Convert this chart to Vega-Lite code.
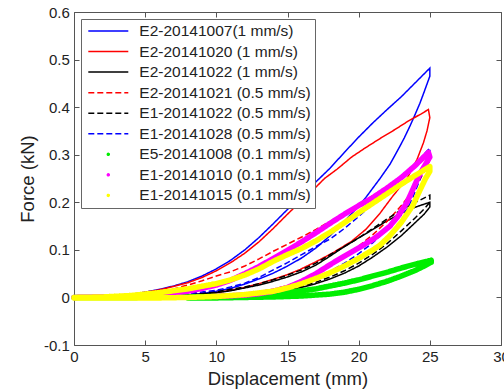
{
"$schema": "https://vega.github.io/schema/vega-lite/v6.json",
"width": 427,
"height": 333,
"autosize": {"type": "none"},
"padding": {"left": 74, "top": 12, "right": 3, "bottom": 44},
"background": "white",
"config": {
  "view": {"stroke": "#555", "strokeWidth": 1},
  "font": "Liberation Sans",
  "axis": {"grid": false, "domain": false, "tickSize": -5, "tickColor": "#555", "tickWidth": 1, "labelFont": "Liberation Sans", "labelFontSize": 15, "labelColor": "#222", "labelPadding": 9.7, "labelFlush": false, "titleFont": "Liberation Sans", "titleFontSize": 18.5, "titleFontWeight": "normal", "titleColor": "#222"},
  "legend": {"orient": "top-left", "offset": 7, "padding": 4, "symbolType": "stroke", "symbolSize": 1600, "symbolStrokeWidth": 1.5, "symbolOffset": 2.3, "labelOffset": 10, "labelFont": "Liberation Sans", "labelFontSize": 15.5, "labelColor": "#222", "labelLimit": 300, "clipHeight": 16, "rowPadding": 3.55, "fillColor": "white", "strokeColor": "#666", "cornerRadius": 0}
},
"datasets": {
"lines": [
{"s":"E2-20141007(1 mm/s)","x":0,"y":0},{"s":"E2-20141007(1 mm/s)","x":2,"y":0.001},{"s":"E2-20141007(1 mm/s)","x":4,"y":0.006},{"s":"E2-20141007(1 mm/s)","x":5,"y":0.011},{"s":"E2-20141007(1 mm/s)","x":6,"y":0.017},{"s":"E2-20141007(1 mm/s)","x":7,"y":0.024},{"s":"E2-20141007(1 mm/s)","x":8,"y":0.033},{"s":"E2-20141007(1 mm/s)","x":9,"y":0.045},{"s":"E2-20141007(1 mm/s)","x":10,"y":0.06},{"s":"E2-20141007(1 mm/s)","x":11,"y":0.078},{"s":"E2-20141007(1 mm/s)","x":12,"y":0.1},{"s":"E2-20141007(1 mm/s)","x":13,"y":0.126},{"s":"E2-20141007(1 mm/s)","x":14,"y":0.155},{"s":"E2-20141007(1 mm/s)","x":15,"y":0.185},{"s":"E2-20141007(1 mm/s)","x":16,"y":0.214},{"s":"E2-20141007(1 mm/s)","x":17,"y":0.243},{"s":"E2-20141007(1 mm/s)","x":18,"y":0.272},{"s":"E2-20141007(1 mm/s)","x":19,"y":0.305},{"s":"E2-20141007(1 mm/s)","x":20,"y":0.337},{"s":"E2-20141007(1 mm/s)","x":21,"y":0.367},{"s":"E2-20141007(1 mm/s)","x":22,"y":0.395},{"s":"E2-20141007(1 mm/s)","x":23,"y":0.422},{"s":"E2-20141007(1 mm/s)","x":24,"y":0.452},{"s":"E2-20141007(1 mm/s)","x":25,"y":0.482},
{"s":"E2-20141007(1 mm/s)","x":25,"y":0.465},{"s":"E2-20141007(1 mm/s)","x":24.6,"y":0.432},{"s":"E2-20141007(1 mm/s)","x":24.3,"y":0.408},{"s":"E2-20141007(1 mm/s)","x":23.9,"y":0.38},{"s":"E2-20141007(1 mm/s)","x":23.6,"y":0.36},{"s":"E2-20141007(1 mm/s)","x":23.2,"y":0.335},{"s":"E2-20141007(1 mm/s)","x":22.9,"y":0.318},{"s":"E2-20141007(1 mm/s)","x":22.5,"y":0.296},{"s":"E2-20141007(1 mm/s)","x":22.2,"y":0.28},{"s":"E2-20141007(1 mm/s)","x":21.5,"y":0.25},{"s":"E2-20141007(1 mm/s)","x":21,"y":0.23},{"s":"E2-20141007(1 mm/s)","x":20.5,"y":0.21},{"s":"E2-20141007(1 mm/s)","x":20,"y":0.192},{"s":"E2-20141007(1 mm/s)","x":19,"y":0.16},{"s":"E2-20141007(1 mm/s)","x":18,"y":0.13},{"s":"E2-20141007(1 mm/s)","x":17,"y":0.104},{"s":"E2-20141007(1 mm/s)","x":16,"y":0.083},{"s":"E2-20141007(1 mm/s)","x":15,"y":0.066},{"s":"E2-20141007(1 mm/s)","x":14,"y":0.051},{"s":"E2-20141007(1 mm/s)","x":13,"y":0.039},{"s":"E2-20141007(1 mm/s)","x":12,"y":0.028},{"s":"E2-20141007(1 mm/s)","x":11,"y":0.019},{"s":"E2-20141007(1 mm/s)","x":10,"y":0.013},{"s":"E2-20141007(1 mm/s)","x":9,"y":0.008},{"s":"E2-20141007(1 mm/s)","x":8,"y":0.005},{"s":"E2-20141007(1 mm/s)","x":7,"y":0.003},{"s":"E2-20141007(1 mm/s)","x":6,"y":0.002},
{"s":"E2-20141020 (1 mm/s)","x":0,"y":0},{"s":"E2-20141020 (1 mm/s)","x":2,"y":0.001},{"s":"E2-20141020 (1 mm/s)","x":4,"y":0.006},{"s":"E2-20141020 (1 mm/s)","x":5,"y":0.011},{"s":"E2-20141020 (1 mm/s)","x":6,"y":0.016},{"s":"E2-20141020 (1 mm/s)","x":7,"y":0.023},{"s":"E2-20141020 (1 mm/s)","x":8,"y":0.031},{"s":"E2-20141020 (1 mm/s)","x":9,"y":0.042},{"s":"E2-20141020 (1 mm/s)","x":10,"y":0.056},{"s":"E2-20141020 (1 mm/s)","x":11,"y":0.073},{"s":"E2-20141020 (1 mm/s)","x":12,"y":0.093},{"s":"E2-20141020 (1 mm/s)","x":13,"y":0.117},{"s":"E2-20141020 (1 mm/s)","x":14,"y":0.145},{"s":"E2-20141020 (1 mm/s)","x":15,"y":0.175},{"s":"E2-20141020 (1 mm/s)","x":16,"y":0.204},{"s":"E2-20141020 (1 mm/s)","x":17,"y":0.232},{"s":"E2-20141020 (1 mm/s)","x":17.6,"y":0.25},{"s":"E2-20141020 (1 mm/s)","x":18.5,"y":0.27},{"s":"E2-20141020 (1 mm/s)","x":19.5,"y":0.295},{"s":"E2-20141020 (1 mm/s)","x":20.5,"y":0.315},{"s":"E2-20141020 (1 mm/s)","x":21.5,"y":0.334},{"s":"E2-20141020 (1 mm/s)","x":22.5,"y":0.352},{"s":"E2-20141020 (1 mm/s)","x":23.5,"y":0.371},{"s":"E2-20141020 (1 mm/s)","x":24.4,"y":0.386},{"s":"E2-20141020 (1 mm/s)","x":24.9,"y":0.395},
{"s":"E2-20141020 (1 mm/s)","x":25,"y":0.378},{"s":"E2-20141020 (1 mm/s)","x":24.8,"y":0.35},{"s":"E2-20141020 (1 mm/s)","x":24.55,"y":0.325},{"s":"E2-20141020 (1 mm/s)","x":24.1,"y":0.29},{"s":"E2-20141020 (1 mm/s)","x":23.4,"y":0.25},{"s":"E2-20141020 (1 mm/s)","x":22.4,"y":0.213},{"s":"E2-20141020 (1 mm/s)","x":21.5,"y":0.177},{"s":"E2-20141020 (1 mm/s)","x":20.5,"y":0.143},{"s":"E2-20141020 (1 mm/s)","x":19.5,"y":0.118},{"s":"E2-20141020 (1 mm/s)","x":18.2,"y":0.094},{"s":"E2-20141020 (1 mm/s)","x":17,"y":0.075},{"s":"E2-20141020 (1 mm/s)","x":15.9,"y":0.059},{"s":"E2-20141020 (1 mm/s)","x":15,"y":0.048},{"s":"E2-20141020 (1 mm/s)","x":14,"y":0.038},{"s":"E2-20141020 (1 mm/s)","x":13,"y":0.029},{"s":"E2-20141020 (1 mm/s)","x":12,"y":0.021},{"s":"E2-20141020 (1 mm/s)","x":11,"y":0.015},{"s":"E2-20141020 (1 mm/s)","x":10,"y":0.01},{"s":"E2-20141020 (1 mm/s)","x":9,"y":0.006},{"s":"E2-20141020 (1 mm/s)","x":8,"y":0.004},{"s":"E2-20141020 (1 mm/s)","x":7,"y":0.002},
{"s":"E2-20141022 (1 mm/s)","x":0,"y":0},{"s":"E2-20141022 (1 mm/s)","x":4,"y":0.001},{"s":"E2-20141022 (1 mm/s)","x":6,"y":0.002},{"s":"E2-20141022 (1 mm/s)","x":8,"y":0.005},{"s":"E2-20141022 (1 mm/s)","x":10,"y":0.01},{"s":"E2-20141022 (1 mm/s)","x":11,"y":0.014},{"s":"E2-20141022 (1 mm/s)","x":12,"y":0.02},{"s":"E2-20141022 (1 mm/s)","x":13,"y":0.026},{"s":"E2-20141022 (1 mm/s)","x":14,"y":0.034},{"s":"E2-20141022 (1 mm/s)","x":15,"y":0.043},{"s":"E2-20141022 (1 mm/s)","x":16,"y":0.054},{"s":"E2-20141022 (1 mm/s)","x":17,"y":0.068},{"s":"E2-20141022 (1 mm/s)","x":18,"y":0.087},{"s":"E2-20141022 (1 mm/s)","x":19,"y":0.107},{"s":"E2-20141022 (1 mm/s)","x":20,"y":0.125},{"s":"E2-20141022 (1 mm/s)","x":21,"y":0.143},{"s":"E2-20141022 (1 mm/s)","x":22,"y":0.161},{"s":"E2-20141022 (1 mm/s)","x":23,"y":0.177},{"s":"E2-20141022 (1 mm/s)","x":24,"y":0.19},{"s":"E2-20141022 (1 mm/s)","x":25,"y":0.2},
{"s":"E2-20141022 (1 mm/s)","x":25,"y":0.19},{"s":"E2-20141022 (1 mm/s)","x":24.6,"y":0.175},{"s":"E2-20141022 (1 mm/s)","x":24,"y":0.158},{"s":"E2-20141022 (1 mm/s)","x":23,"y":0.13},{"s":"E2-20141022 (1 mm/s)","x":22,"y":0.106},{"s":"E2-20141022 (1 mm/s)","x":21,"y":0.085},{"s":"E2-20141022 (1 mm/s)","x":20,"y":0.066},{"s":"E2-20141022 (1 mm/s)","x":19,"y":0.051},{"s":"E2-20141022 (1 mm/s)","x":18,"y":0.039},{"s":"E2-20141022 (1 mm/s)","x":17,"y":0.029},{"s":"E2-20141022 (1 mm/s)","x":16,"y":0.021},{"s":"E2-20141022 (1 mm/s)","x":15,"y":0.015},{"s":"E2-20141022 (1 mm/s)","x":14,"y":0.01},{"s":"E2-20141022 (1 mm/s)","x":13,"y":0.007},{"s":"E2-20141022 (1 mm/s)","x":12,"y":0.005},{"s":"E2-20141022 (1 mm/s)","x":10,"y":0.002},{"s":"E2-20141022 (1 mm/s)","x":8,"y":0.001},
{"s":"E2-20141021 (0.5 mm/s)","x":0,"y":0},{"s":"E2-20141021 (0.5 mm/s)","x":3,"y":0.003},{"s":"E2-20141021 (0.5 mm/s)","x":5,"y":0.008},{"s":"E2-20141021 (0.5 mm/s)","x":6,"y":0.012},{"s":"E2-20141021 (0.5 mm/s)","x":7,"y":0.018},{"s":"E2-20141021 (0.5 mm/s)","x":8,"y":0.026},{"s":"E2-20141021 (0.5 mm/s)","x":9,"y":0.035},{"s":"E2-20141021 (0.5 mm/s)","x":10,"y":0.045},{"s":"E2-20141021 (0.5 mm/s)","x":11,"y":0.054},{"s":"E2-20141021 (0.5 mm/s)","x":12,"y":0.066},{"s":"E2-20141021 (0.5 mm/s)","x":13,"y":0.081},{"s":"E2-20141021 (0.5 mm/s)","x":14,"y":0.097},{"s":"E2-20141021 (0.5 mm/s)","x":15,"y":0.112},{"s":"E2-20141021 (0.5 mm/s)","x":16,"y":0.127},{"s":"E2-20141021 (0.5 mm/s)","x":17,"y":0.143},{"s":"E2-20141021 (0.5 mm/s)","x":18,"y":0.16},{"s":"E2-20141021 (0.5 mm/s)","x":19,"y":0.178},{"s":"E2-20141021 (0.5 mm/s)","x":20,"y":0.196},{"s":"E2-20141021 (0.5 mm/s)","x":21,"y":0.214},{"s":"E2-20141021 (0.5 mm/s)","x":22,"y":0.233},{"s":"E2-20141021 (0.5 mm/s)","x":23,"y":0.253},{"s":"E2-20141021 (0.5 mm/s)","x":24,"y":0.275},{"s":"E2-20141021 (0.5 mm/s)","x":25,"y":0.3},
{"s":"E2-20141021 (0.5 mm/s)","x":25,"y":0.288},{"s":"E2-20141021 (0.5 mm/s)","x":24.5,"y":0.258},{"s":"E2-20141021 (0.5 mm/s)","x":24,"y":0.232},{"s":"E2-20141021 (0.5 mm/s)","x":23,"y":0.193},{"s":"E2-20141021 (0.5 mm/s)","x":22,"y":0.16},{"s":"E2-20141021 (0.5 mm/s)","x":21,"y":0.132},{"s":"E2-20141021 (0.5 mm/s)","x":20,"y":0.108},{"s":"E2-20141021 (0.5 mm/s)","x":19,"y":0.088},{"s":"E2-20141021 (0.5 mm/s)","x":18,"y":0.07},{"s":"E2-20141021 (0.5 mm/s)","x":17,"y":0.052},{"s":"E2-20141021 (0.5 mm/s)","x":16,"y":0.036},{"s":"E2-20141021 (0.5 mm/s)","x":15,"y":0.025},{"s":"E2-20141021 (0.5 mm/s)","x":14,"y":0.017},{"s":"E2-20141021 (0.5 mm/s)","x":13,"y":0.012},{"s":"E2-20141021 (0.5 mm/s)","x":12,"y":0.008},{"s":"E2-20141021 (0.5 mm/s)","x":10,"y":0.004},{"s":"E2-20141021 (0.5 mm/s)","x":8,"y":0.002},
{"s":"E1-20141022 (0.5 mm/s)","x":0,"y":0},{"s":"E1-20141022 (0.5 mm/s)","x":4,"y":0.001},{"s":"E1-20141022 (0.5 mm/s)","x":6,"y":0.003},{"s":"E1-20141022 (0.5 mm/s)","x":8,"y":0.006},{"s":"E1-20141022 (0.5 mm/s)","x":10,"y":0.012},{"s":"E1-20141022 (0.5 mm/s)","x":12,"y":0.022},{"s":"E1-20141022 (0.5 mm/s)","x":13,"y":0.029},{"s":"E1-20141022 (0.5 mm/s)","x":14,"y":0.037},{"s":"E1-20141022 (0.5 mm/s)","x":15,"y":0.047},{"s":"E1-20141022 (0.5 mm/s)","x":16,"y":0.058},{"s":"E1-20141022 (0.5 mm/s)","x":17,"y":0.072},{"s":"E1-20141022 (0.5 mm/s)","x":18,"y":0.09},{"s":"E1-20141022 (0.5 mm/s)","x":19,"y":0.107},{"s":"E1-20141022 (0.5 mm/s)","x":20,"y":0.125},{"s":"E1-20141022 (0.5 mm/s)","x":21,"y":0.145},{"s":"E1-20141022 (0.5 mm/s)","x":22,"y":0.165},{"s":"E1-20141022 (0.5 mm/s)","x":23,"y":0.184},{"s":"E1-20141022 (0.5 mm/s)","x":24,"y":0.2},{"s":"E1-20141022 (0.5 mm/s)","x":25,"y":0.215},
{"s":"E1-20141022 (0.5 mm/s)","x":25,"y":0.2},{"s":"E1-20141022 (0.5 mm/s)","x":24.6,"y":0.186},{"s":"E1-20141022 (0.5 mm/s)","x":24,"y":0.168},{"s":"E1-20141022 (0.5 mm/s)","x":23,"y":0.14},{"s":"E1-20141022 (0.5 mm/s)","x":22,"y":0.113},{"s":"E1-20141022 (0.5 mm/s)","x":21,"y":0.091},{"s":"E1-20141022 (0.5 mm/s)","x":20,"y":0.072},{"s":"E1-20141022 (0.5 mm/s)","x":19,"y":0.056},{"s":"E1-20141022 (0.5 mm/s)","x":18,"y":0.043},{"s":"E1-20141022 (0.5 mm/s)","x":17,"y":0.032},{"s":"E1-20141022 (0.5 mm/s)","x":16,"y":0.023},{"s":"E1-20141022 (0.5 mm/s)","x":15,"y":0.016},{"s":"E1-20141022 (0.5 mm/s)","x":14,"y":0.011},{"s":"E1-20141022 (0.5 mm/s)","x":13,"y":0.008},{"s":"E1-20141022 (0.5 mm/s)","x":12,"y":0.005},{"s":"E1-20141022 (0.5 mm/s)","x":10,"y":0.002},{"s":"E1-20141022 (0.5 mm/s)","x":8,"y":0.001},
{"s":"E1-20141028 (0.5 mm/s)","x":0,"y":0},{"s":"E1-20141028 (0.5 mm/s)","x":5,"y":0.003},{"s":"E1-20141028 (0.5 mm/s)","x":8,"y":0.008},{"s":"E1-20141028 (0.5 mm/s)","x":10,"y":0.015},{"s":"E1-20141028 (0.5 mm/s)","x":11,"y":0.022},{"s":"E1-20141028 (0.5 mm/s)","x":12,"y":0.03},{"s":"E1-20141028 (0.5 mm/s)","x":13,"y":0.042},{"s":"E1-20141028 (0.5 mm/s)","x":14,"y":0.058},{"s":"E1-20141028 (0.5 mm/s)","x":15,"y":0.073},{"s":"E1-20141028 (0.5 mm/s)","x":16,"y":0.09},{"s":"E1-20141028 (0.5 mm/s)","x":17,"y":0.107},{"s":"E1-20141028 (0.5 mm/s)","x":18,"y":0.123},{"s":"E1-20141028 (0.5 mm/s)","x":19,"y":0.145},{"s":"E1-20141028 (0.5 mm/s)","x":20,"y":0.17},{"s":"E1-20141028 (0.5 mm/s)","x":21,"y":0.197},{"s":"E1-20141028 (0.5 mm/s)","x":22,"y":0.225},{"s":"E1-20141028 (0.5 mm/s)","x":23,"y":0.253},{"s":"E1-20141028 (0.5 mm/s)","x":24,"y":0.282},{"s":"E1-20141028 (0.5 mm/s)","x":25,"y":0.314},
{"s":"E1-20141028 (0.5 mm/s)","x":25,"y":0.3},{"s":"E1-20141028 (0.5 mm/s)","x":24.6,"y":0.27},{"s":"E1-20141028 (0.5 mm/s)","x":24.2,"y":0.24},{"s":"E1-20141028 (0.5 mm/s)","x":23.8,"y":0.21},{"s":"E1-20141028 (0.5 mm/s)","x":23.4,"y":0.185},{"s":"E1-20141028 (0.5 mm/s)","x":22.9,"y":0.17},{"s":"E1-20141028 (0.5 mm/s)","x":22.4,"y":0.155},{"s":"E1-20141028 (0.5 mm/s)","x":22,"y":0.143},{"s":"E1-20141028 (0.5 mm/s)","x":21,"y":0.115},{"s":"E1-20141028 (0.5 mm/s)","x":20,"y":0.092},{"s":"E1-20141028 (0.5 mm/s)","x":19,"y":0.072},{"s":"E1-20141028 (0.5 mm/s)","x":18,"y":0.055},{"s":"E1-20141028 (0.5 mm/s)","x":17,"y":0.042},{"s":"E1-20141028 (0.5 mm/s)","x":16,"y":0.031},{"s":"E1-20141028 (0.5 mm/s)","x":15,"y":0.022},{"s":"E1-20141028 (0.5 mm/s)","x":14,"y":0.015},{"s":"E1-20141028 (0.5 mm/s)","x":12,"y":0.007},{"s":"E1-20141028 (0.5 mm/s)","x":10,"y":0.003}
],
"dots": [
{"s":"E5-20141008 (0.1 mm/s)","x":0,"y":0},{"s":"E5-20141008 (0.1 mm/s)","x":4,"y":0},{"s":"E5-20141008 (0.1 mm/s)","x":8,"y":0.001},{"s":"E5-20141008 (0.1 mm/s)","x":10,"y":0.002},{"s":"E5-20141008 (0.1 mm/s)","x":12,"y":0.004},{"s":"E5-20141008 (0.1 mm/s)","x":14,"y":0.008},{"s":"E5-20141008 (0.1 mm/s)","x":16,"y":0.014},{"s":"E5-20141008 (0.1 mm/s)","x":17,"y":0.018},{"s":"E5-20141008 (0.1 mm/s)","x":18,"y":0.024},{"s":"E5-20141008 (0.1 mm/s)","x":19,"y":0.03},{"s":"E5-20141008 (0.1 mm/s)","x":20,"y":0.037},{"s":"E5-20141008 (0.1 mm/s)","x":21,"y":0.045},{"s":"E5-20141008 (0.1 mm/s)","x":22,"y":0.053},{"s":"E5-20141008 (0.1 mm/s)","x":23,"y":0.062},{"s":"E5-20141008 (0.1 mm/s)","x":24,"y":0.07},{"s":"E5-20141008 (0.1 mm/s)","x":25.1,"y":0.078},
{"s":"E5-20141008 (0.1 mm/s)","x":25.1,"y":0.074},{"s":"E5-20141008 (0.1 mm/s)","x":24.6,"y":0.066},{"s":"E5-20141008 (0.1 mm/s)","x":24,"y":0.057},{"s":"E5-20141008 (0.1 mm/s)","x":23,"y":0.045},{"s":"E5-20141008 (0.1 mm/s)","x":22,"y":0.034},{"s":"E5-20141008 (0.1 mm/s)","x":21,"y":0.025},{"s":"E5-20141008 (0.1 mm/s)","x":20,"y":0.017},{"s":"E5-20141008 (0.1 mm/s)","x":19,"y":0.011},{"s":"E5-20141008 (0.1 mm/s)","x":18,"y":0.007},{"s":"E5-20141008 (0.1 mm/s)","x":16,"y":0.003},{"s":"E5-20141008 (0.1 mm/s)","x":14,"y":0.001},{"s":"E5-20141008 (0.1 mm/s)","x":12,"y":0},{"s":"E5-20141008 (0.1 mm/s)","x":10,"y":-0.001},{"s":"E5-20141008 (0.1 mm/s)","x":8,"y":-0.001},
{"s":"E1-20141010 (0.1 mm/s)","x":0,"y":0},{"s":"E1-20141010 (0.1 mm/s)","x":4,"y":0.002},{"s":"E1-20141010 (0.1 mm/s)","x":6,"y":0.006},{"s":"E1-20141010 (0.1 mm/s)","x":8,"y":0.013},{"s":"E1-20141010 (0.1 mm/s)","x":9,"y":0.019},{"s":"E1-20141010 (0.1 mm/s)","x":10,"y":0.026},{"s":"E1-20141010 (0.1 mm/s)","x":11,"y":0.036},{"s":"E1-20141010 (0.1 mm/s)","x":12,"y":0.05},{"s":"E1-20141010 (0.1 mm/s)","x":13,"y":0.065},{"s":"E1-20141010 (0.1 mm/s)","x":14,"y":0.082},{"s":"E1-20141010 (0.1 mm/s)","x":15,"y":0.099},{"s":"E1-20141010 (0.1 mm/s)","x":16,"y":0.117},{"s":"E1-20141010 (0.1 mm/s)","x":17,"y":0.136},{"s":"E1-20141010 (0.1 mm/s)","x":18,"y":0.156},{"s":"E1-20141010 (0.1 mm/s)","x":19,"y":0.175},{"s":"E1-20141010 (0.1 mm/s)","x":20,"y":0.193},{"s":"E1-20141010 (0.1 mm/s)","x":21,"y":0.21},{"s":"E1-20141010 (0.1 mm/s)","x":22,"y":0.23},{"s":"E1-20141010 (0.1 mm/s)","x":23,"y":0.252},{"s":"E1-20141010 (0.1 mm/s)","x":24,"y":0.278},{"s":"E1-20141010 (0.1 mm/s)","x":24.9,"y":0.305},
{"s":"E1-20141010 (0.1 mm/s)","x":25,"y":0.295},{"s":"E1-20141010 (0.1 mm/s)","x":24.7,"y":0.28},{"s":"E1-20141010 (0.1 mm/s)","x":24.3,"y":0.26},{"s":"E1-20141010 (0.1 mm/s)","x":24,"y":0.24},{"s":"E1-20141010 (0.1 mm/s)","x":23.4,"y":0.2},{"s":"E1-20141010 (0.1 mm/s)","x":22.8,"y":0.172},{"s":"E1-20141010 (0.1 mm/s)","x":22.2,"y":0.15},{"s":"E1-20141010 (0.1 mm/s)","x":21.5,"y":0.133},{"s":"E1-20141010 (0.1 mm/s)","x":21,"y":0.122},{"s":"E1-20141010 (0.1 mm/s)","x":20,"y":0.104},{"s":"E1-20141010 (0.1 mm/s)","x":19,"y":0.087},{"s":"E1-20141010 (0.1 mm/s)","x":18,"y":0.069},{"s":"E1-20141010 (0.1 mm/s)","x":17,"y":0.05},{"s":"E1-20141010 (0.1 mm/s)","x":16,"y":0.034},{"s":"E1-20141010 (0.1 mm/s)","x":15,"y":0.021},{"s":"E1-20141010 (0.1 mm/s)","x":14,"y":0.013},{"s":"E1-20141010 (0.1 mm/s)","x":13,"y":0.008},{"s":"E1-20141010 (0.1 mm/s)","x":12,"y":0.005},{"s":"E1-20141010 (0.1 mm/s)","x":10,"y":0.002},
{"s":"E1-20141015 (0.1 mm/s)","x":0,"y":0},{"s":"E1-20141015 (0.1 mm/s)","x":2,"y":0.001},{"s":"E1-20141015 (0.1 mm/s)","x":4,"y":0.004},{"s":"E1-20141015 (0.1 mm/s)","x":6,"y":0.01},{"s":"E1-20141015 (0.1 mm/s)","x":8,"y":0.018},{"s":"E1-20141015 (0.1 mm/s)","x":10,"y":0.029},{"s":"E1-20141015 (0.1 mm/s)","x":11,"y":0.037},{"s":"E1-20141015 (0.1 mm/s)","x":12,"y":0.047},{"s":"E1-20141015 (0.1 mm/s)","x":13,"y":0.06},{"s":"E1-20141015 (0.1 mm/s)","x":14,"y":0.076},{"s":"E1-20141015 (0.1 mm/s)","x":15,"y":0.09},{"s":"E1-20141015 (0.1 mm/s)","x":16,"y":0.103},{"s":"E1-20141015 (0.1 mm/s)","x":17,"y":0.119},{"s":"E1-20141015 (0.1 mm/s)","x":18,"y":0.137},{"s":"E1-20141015 (0.1 mm/s)","x":19,"y":0.157},{"s":"E1-20141015 (0.1 mm/s)","x":20,"y":0.178},{"s":"E1-20141015 (0.1 mm/s)","x":21,"y":0.198},{"s":"E1-20141015 (0.1 mm/s)","x":22,"y":0.218},{"s":"E1-20141015 (0.1 mm/s)","x":23,"y":0.238},{"s":"E1-20141015 (0.1 mm/s)","x":24,"y":0.257},{"s":"E1-20141015 (0.1 mm/s)","x":25,"y":0.275},
{"s":"E1-20141015 (0.1 mm/s)","x":25,"y":0.265},{"s":"E1-20141015 (0.1 mm/s)","x":24.7,"y":0.25},{"s":"E1-20141015 (0.1 mm/s)","x":24.3,"y":0.225},{"s":"E1-20141015 (0.1 mm/s)","x":23.8,"y":0.193},{"s":"E1-20141015 (0.1 mm/s)","x":23,"y":0.158},{"s":"E1-20141015 (0.1 mm/s)","x":22.2,"y":0.13},{"s":"E1-20141015 (0.1 mm/s)","x":21.5,"y":0.11},{"s":"E1-20141015 (0.1 mm/s)","x":21,"y":0.1},{"s":"E1-20141015 (0.1 mm/s)","x":20,"y":0.082},{"s":"E1-20141015 (0.1 mm/s)","x":19,"y":0.066},{"s":"E1-20141015 (0.1 mm/s)","x":18,"y":0.052},{"s":"E1-20141015 (0.1 mm/s)","x":17,"y":0.04},{"s":"E1-20141015 (0.1 mm/s)","x":16,"y":0.029},{"s":"E1-20141015 (0.1 mm/s)","x":15,"y":0.02},{"s":"E1-20141015 (0.1 mm/s)","x":14,"y":0.013},{"s":"E1-20141015 (0.1 mm/s)","x":12,"y":0.006},{"s":"E1-20141015 (0.1 mm/s)","x":10,"y":0.002},{"s":"E1-20141015 (0.1 mm/s)","x":8,"y":0},{"s":"E1-20141015 (0.1 mm/s)","x":6,"y":-0.001},{"s":"E1-20141015 (0.1 mm/s)","x":3,"y":-0.001},{"s":"E1-20141015 (0.1 mm/s)","x":0,"y":-0.001}
]
},
"layer": [
{
  "data": {"name": "lines"},
  "mark": {"type": "line", "strokeWidth": 1.5},
  "encoding": {
    "x": {"field": "x", "type": "quantitative", "scale": {"domain": [0, 30], "nice": false, "zero": false}, "axis": {"orient": "bottom", "values": [0, 5, 10, 15, 20, 25, 30], "title": "Displacement (mm)", "titlePadding": 5}},
    "y": {"field": "y", "type": "quantitative", "scale": {"domain": [-0.1, 0.6], "nice": false, "zero": false}, "axis": {"orient": "left", "values": [-0.1, 0, 0.1, 0.2, 0.3, 0.4, 0.5, 0.6], "labelExpr": "datum.value < 0 ? '-' + format(-datum.value, '.1~f') : format(datum.value, '.1~f')", "title": "Force (kN)", "titlePadding": 6}},
    "color": {"field": "s", "type": "nominal", "legend": {"title": null},
      "scale": {"domain": ["E2-20141007(1 mm/s)", "E2-20141020 (1 mm/s)", "E2-20141022 (1 mm/s)", "E2-20141021 (0.5 mm/s)", "E1-20141022 (0.5 mm/s)", "E1-20141028 (0.5 mm/s)", "E5-20141008 (0.1 mm/s)", "E1-20141010 (0.1 mm/s)", "E1-20141015 (0.1 mm/s)"],
                "range": ["#0000ff", "#ff0000", "#000000", "#ff0000", "#000000", "#0000ff", "#00ee00", "#ff00ff", "#ffff00"]}},
    "strokeDash": {"field": "s", "type": "nominal", "legend": {"title": null},
      "scale": {"domain": ["E2-20141007(1 mm/s)", "E2-20141020 (1 mm/s)", "E2-20141022 (1 mm/s)", "E2-20141021 (0.5 mm/s)", "E1-20141022 (0.5 mm/s)", "E1-20141028 (0.5 mm/s)", "E5-20141008 (0.1 mm/s)", "E1-20141010 (0.1 mm/s)", "E1-20141015 (0.1 mm/s)"],
                "range": [[1, 0], [1, 0], [1, 0], [6, 3], [6, 3], [6, 3], [1, 0], [1, 0], [1, 0]]}},
    "order": {"value": null}
  }
},
{
  "data": {"name": "dots"},
  "mark": {"type": "line", "strokeWidth": 5.5, "strokeCap": "round", "strokeJoin": "round"},
  "encoding": {
    "x": {"field": "x", "type": "quantitative", "axis": {"orient": "top", "values": [0, 5, 10, 15, 20, 25, 30], "labels": false, "title": null}},
    "y": {"field": "y", "type": "quantitative", "axis": {"orient": "right", "values": [-0.1, 0, 0.1, 0.2, 0.3, 0.4, 0.5, 0.6], "labels": false, "title": null}},
    "color": {"field": "s", "type": "nominal", "legend": {"title": null}},
    "strokeDash": {"field": "s", "type": "nominal", "legend": {"title": null}},
    "order": {"value": null}
  }
},
{
  "data": {"name": "dots"},
  "mark": {"type": "point", "filled": true, "size": 4, "opacity": 1},
  "encoding": {
    "x": {"field": "x", "type": "quantitative", "axis": null},
    "y": {"field": "y", "type": "quantitative", "axis": null},
    "color": {"field": "s", "type": "nominal", "legend": {"title": null}},
    "shape": {"field": "s", "type": "nominal", "legend": {"title": null},
      "scale": {"domain": ["E2-20141007(1 mm/s)", "E2-20141020 (1 mm/s)", "E2-20141022 (1 mm/s)", "E2-20141021 (0.5 mm/s)", "E1-20141022 (0.5 mm/s)", "E1-20141028 (0.5 mm/s)", "E5-20141008 (0.1 mm/s)", "E1-20141010 (0.1 mm/s)", "E1-20141015 (0.1 mm/s)"],
                "range": ["stroke", "stroke", "stroke", "stroke", "stroke", "stroke", "M-0.05,0A0.05,0.05,0,1,1,0.05,0A0.05,0.05,0,1,1,-0.05,0Z", "M-0.05,0A0.05,0.05,0,1,1,0.05,0A0.05,0.05,0,1,1,-0.05,0Z", "M-0.05,0A0.05,0.05,0,1,1,0.05,0A0.05,0.05,0,1,1,-0.05,0Z"]}}
  }
}
],
"resolve": {"axis": {"x": "independent", "y": "independent"}}
}
